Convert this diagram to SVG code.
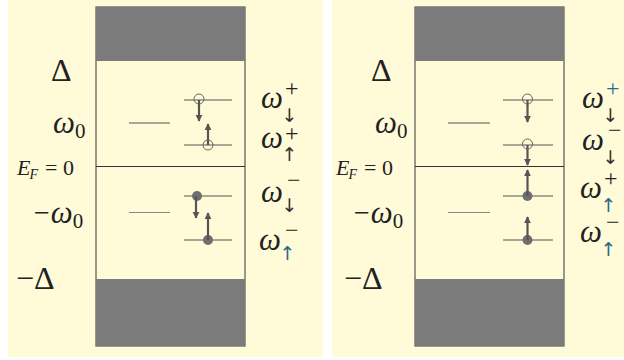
<svg xmlns="http://www.w3.org/2000/svg" width="624" height="360" viewBox="0 0 624 360">
<defs>
<style>
.panel{fill:#fffbd8}
.box{fill:#fffbd8;stroke:#555;stroke-width:1.2}
.dark{fill:#7b7b7b}
.ef{stroke:#333;stroke-width:1.2}
.lvl{stroke:#555;stroke-width:1.2}
.lvl2{stroke:#888;stroke-width:1.2}
.arr{stroke:#555;stroke-width:2.2;fill:none}
.hole{fill:none;stroke:#666;stroke-width:1}
.el{fill:#6e6e6e}
.m{font-family:"Liberation Serif",serif;fill:#222}
.mi{font-family:"Liberation Serif",serif;font-style:italic;fill:#222}
.lab{font-family:"Liberation Serif",serif;font-style:italic;fill:#222;font-size:31px}
.sp{font-style:normal;font-size:24px}
.sa{font-family:"DejaVu Sans",sans-serif;font-style:normal;font-size:19px;fill:#333}
.blu{fill:#2a6a8a}
</style>
<marker id="ah" viewBox="0 0 10 10" refX="9" refY="5" markerWidth="3.2" markerHeight="3.2" orient="auto"><path d="M0,0 L10,5 L0,10 z" fill="#555"/></marker>
</defs>
<rect width="624" height="360" fill="#ffffff"/>
<g id="left-panel">
<rect class="panel" x="8" y="0" width="315" height="357"/>
<rect class="box" x="96" y="7" width="149" height="339"/>
<rect class="dark" x="96" y="7" width="149" height="54"/>
<rect class="dark" x="96" y="279" width="149" height="67"/>
<line class="ef" x1="96" y1="166.5" x2="245" y2="166.5"/>
<line class="lvl" x1="129" y1="123" x2="170" y2="123"/>
<line class="lvl2" x1="129" y1="212.5" x2="170" y2="212.5"/>
<line class="lvl" x1="184" y1="100" x2="232" y2="100"/>
<line class="lvl" x1="184" y1="145" x2="232" y2="145"/>
<line class="lvl" x1="184" y1="196" x2="232" y2="196"/>
<line class="lvl" x1="184" y1="240" x2="232" y2="240"/>
<g id="left-transitions">
<circle class="hole" cx="199" cy="99" r="5"/>
<line class="arr" x1="199" y1="100" x2="199" y2="121" marker-end="url(#ah)"/>
<circle class="hole" cx="208" cy="145" r="5"/>
<line class="arr" x1="208" y1="145" x2="208" y2="124" marker-end="url(#ah)"/>
<circle class="el" cx="197" cy="196" r="5"/>
<line class="arr" x1="196" y1="196" x2="196" y2="218" marker-end="url(#ah)"/>
<circle class="el" cx="208" cy="240" r="5"/>
<line class="arr" x1="208" y1="240" x2="208" y2="213" marker-end="url(#ah)"/>
</g>
<text class="m" x="51" y="81" font-size="32">Δ</text>
<text class="mi" x="53" y="133" font-size="31">ω<tspan font-style="normal" font-size="21" dy="5">0</tspan></text>
<text class="mi" x="17" y="175" font-size="22">E<tspan font-size="14" dy="4" dx="-1">F</tspan><tspan font-style="normal" dy="-4" dx="7">= 0</tspan></text>
<text class="m" x="34" y="222" font-size="28">−<tspan font-style="italic" font-size="31" dy="1" dx="1">ω</tspan><tspan font-size="21" dy="5">0</tspan></text>
<text class="m" x="16" y="289" font-size="32">−Δ</text>
<text class="lab" x="261" y="108">ω<tspan class="sp" dx="2" dy="-12">+</tspan><tspan class="sa" dx="-17" dy="26">↓</tspan></text>
<text class="lab" x="261" y="148">ω<tspan class="sp" dx="2" dy="-7">+</tspan><tspan class="sa" dx="-17" dy="20">↑</tspan></text>
<text class="lab" x="261" y="202">ω<tspan class="sp" dx="4" dy="-14">−</tspan><tspan class="sa" dx="-19" dy="24">↓</tspan></text>
<text class="lab" x="259" y="250">ω<tspan class="sp" dx="4" dy="-12">−</tspan><tspan class="sa blu" dx="-19" dy="22">↑</tspan></text>
</g>
<g id="right-panel">
<rect class="panel" x="332" y="0" width="292" height="357"/>
<rect class="box" x="415" y="7" width="149" height="339"/>
<rect class="dark" x="415" y="7" width="149" height="54"/>
<rect class="dark" x="415" y="279" width="149" height="67"/>
<line class="ef" x1="415" y1="166.5" x2="564" y2="166.5"/>
<line class="lvl" x1="448" y1="123" x2="490" y2="123"/>
<line class="lvl2" x1="448" y1="212.5" x2="490" y2="212.5"/>
<line class="lvl" x1="503" y1="100" x2="553" y2="100"/>
<line class="lvl" x1="503" y1="145" x2="553" y2="145"/>
<line class="lvl" x1="503" y1="196" x2="553" y2="196"/>
<line class="lvl" x1="503" y1="240" x2="553" y2="240"/>
<g id="right-transitions">
<circle class="hole" cx="527.5" cy="99" r="5"/>
<line class="arr" x1="527.5" y1="100" x2="527.5" y2="122" marker-end="url(#ah)"/>
<circle class="hole" cx="527.5" cy="144" r="5"/>
<line class="arr" x1="527.5" y1="145" x2="527.5" y2="165" marker-end="url(#ah)"/>
<circle class="el" cx="527.5" cy="196" r="5"/>
<line class="arr" x1="527.5" y1="196" x2="527.5" y2="170" marker-end="url(#ah)"/>
<circle class="el" cx="527.5" cy="240" r="5"/>
<line class="arr" x1="527.5" y1="240" x2="527.5" y2="217" marker-end="url(#ah)"/>
</g>
<text class="m" x="371" y="81" font-size="32">Δ</text>
<text class="mi" x="375" y="133" font-size="31">ω<tspan font-style="normal" font-size="21" dy="5">0</tspan></text>
<text class="mi" x="336" y="175" font-size="22">E<tspan font-size="14" dy="4" dx="-1">F</tspan><tspan font-style="normal" dy="-4" dx="7">= 0</tspan></text>
<text class="m" x="354" y="222" font-size="28">−<tspan font-style="italic" font-size="31" dy="1" dx="1">ω</tspan><tspan font-size="21" dy="5">0</tspan></text>
<text class="m" x="344" y="289" font-size="32">−Δ</text>
<text class="lab" x="582" y="108">ω<tspan class="sp blu" dx="2" dy="-12">+</tspan><tspan class="sa" dx="-17" dy="26">↓</tspan></text>
<text class="lab" x="582" y="150">ω<tspan class="sp" dx="4" dy="-12">−</tspan><tspan class="sa" dx="-19" dy="26">↓</tspan></text>
<text class="lab" x="580" y="198">ω<tspan class="sp" dx="2" dy="-12">+</tspan><tspan class="sa blu" dx="-17" dy="26">↑</tspan></text>
<text class="lab" x="580" y="242">ω<tspan class="sp" dx="4" dy="-12">−</tspan><tspan class="sa blu" dx="-19" dy="26">↑</tspan></text>
</g>
</svg>
